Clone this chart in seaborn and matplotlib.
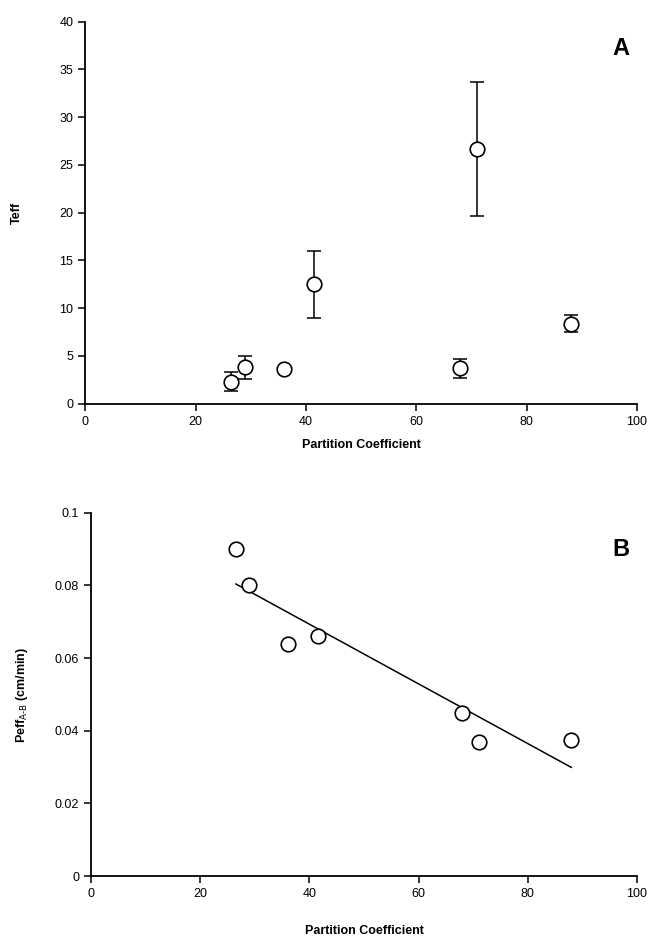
import matplotlib
matplotlib.use("Agg")
import matplotlib.pyplot as plt
import seaborn as sns
import pandas as pd

# panel A: Teff vs partition coefficient (mean +/- error)
partition = [26.5, 29.0, 36.0, 41.5, 68.0, 71.0, 88.0]
teff = [2.3, 3.8, 3.6, 12.5, 3.7, 26.7, 8.4]
teff_err = [1.0, 1.2, 0.0, 3.5, 1.0, 7.0, 0.9]

# panel B: Peff A-B vs partition coefficient
peff = [0.090, 0.080, 0.064, 0.066, 0.045, 0.037, 0.0375]

a_yticks = [0, 5, 10, 15, 20, 25, 30, 35, 40]
b_yticks = [0, 0.02, 0.04, 0.06, 0.08, 0.1]
b_ylabels = ["0", "0.02", "0.04", "0.06", "0.08", "0.1"]
xticks = [0, 20, 40, 60, 80, 100]

sns.set_style("ticks", {"text.color": "black", "axes.labelcolor": "black",
                        "xtick.color": "black", "ytick.color": "black",
                        "axes.edgecolor": "black"})
plt.rcParams['font.family'] = ['Liberation Sans', 'DejaVu Sans']

df = pd.DataFrame({"pc": partition, "teff": teff, "err": teff_err, "peff": peff})

fig = plt.figure(figsize=(6.5, 9.39), dpi=100)
axA = fig.add_axes([0.131, 0.570, 0.849, 0.407])
axB = fig.add_axes([0.140, 0.067, 0.840, 0.387])

# A
axA.errorbar(df.pc, df.teff, yerr=df.err, fmt="none", ecolor="black",
             elinewidth=1.1, capsize=5, capthick=1.1, zorder=1)
sns.scatterplot(data=df, x="pc", y="teff", ax=axA, s=110, marker="o",
                facecolor="white", edgecolor="black", linewidth=1.2, zorder=3)
axA.set_xlim(0, 100)
axA.set_ylim(0, 40)
axA.set_xticks(xticks)
axA.set_yticks(a_yticks)
axA.set_xlabel("Partition Coefficient", fontsize=9, fontweight="bold", labelpad=8)
axA.set_ylabel("Teff", fontsize=9, fontweight="bold", labelpad=26)
axA.text(0.955, 0.93, "A", transform=axA.transAxes, fontsize=17,
         fontweight="bold", ha="left", va="center")

# B
sns.regplot(data=df, x="pc", y="peff", ax=axB, ci=None, truncate=True,
            scatter_kws=dict(s=110, facecolor="white", edgecolor="black",
                             linewidths=1.2, alpha=1, zorder=3),
            line_kws=dict(color="black", linewidth=1.1, zorder=2))
axB.set_xlim(0, 100)
axB.set_ylim(0, 0.1)
axB.set_xticks(xticks)
axB.set_yticks(b_yticks)
axB.set_yticklabels(b_ylabels)
axB.set_xlabel("Partition Coefficient", fontsize=9, fontweight="bold", labelpad=18)
axB.set_ylabel(r"Peff$_{\mathrm{A\text{-}B}}$ (cm/min)", fontsize=9,
               fontweight="bold", labelpad=18)
axB.text(0.955, 0.90, "B", transform=axB.transAxes, fontsize=17,
         fontweight="bold", ha="left", va="center")

for ax in (axA, axB):
    sns.despine(ax=ax)
    ax.tick_params(labelsize=9, length=5, width=1.1, direction="out")
    for s in ("left", "bottom"):
        ax.spines[s].set_linewidth(1.3)

fig.savefig("out.png", dpi=100)
